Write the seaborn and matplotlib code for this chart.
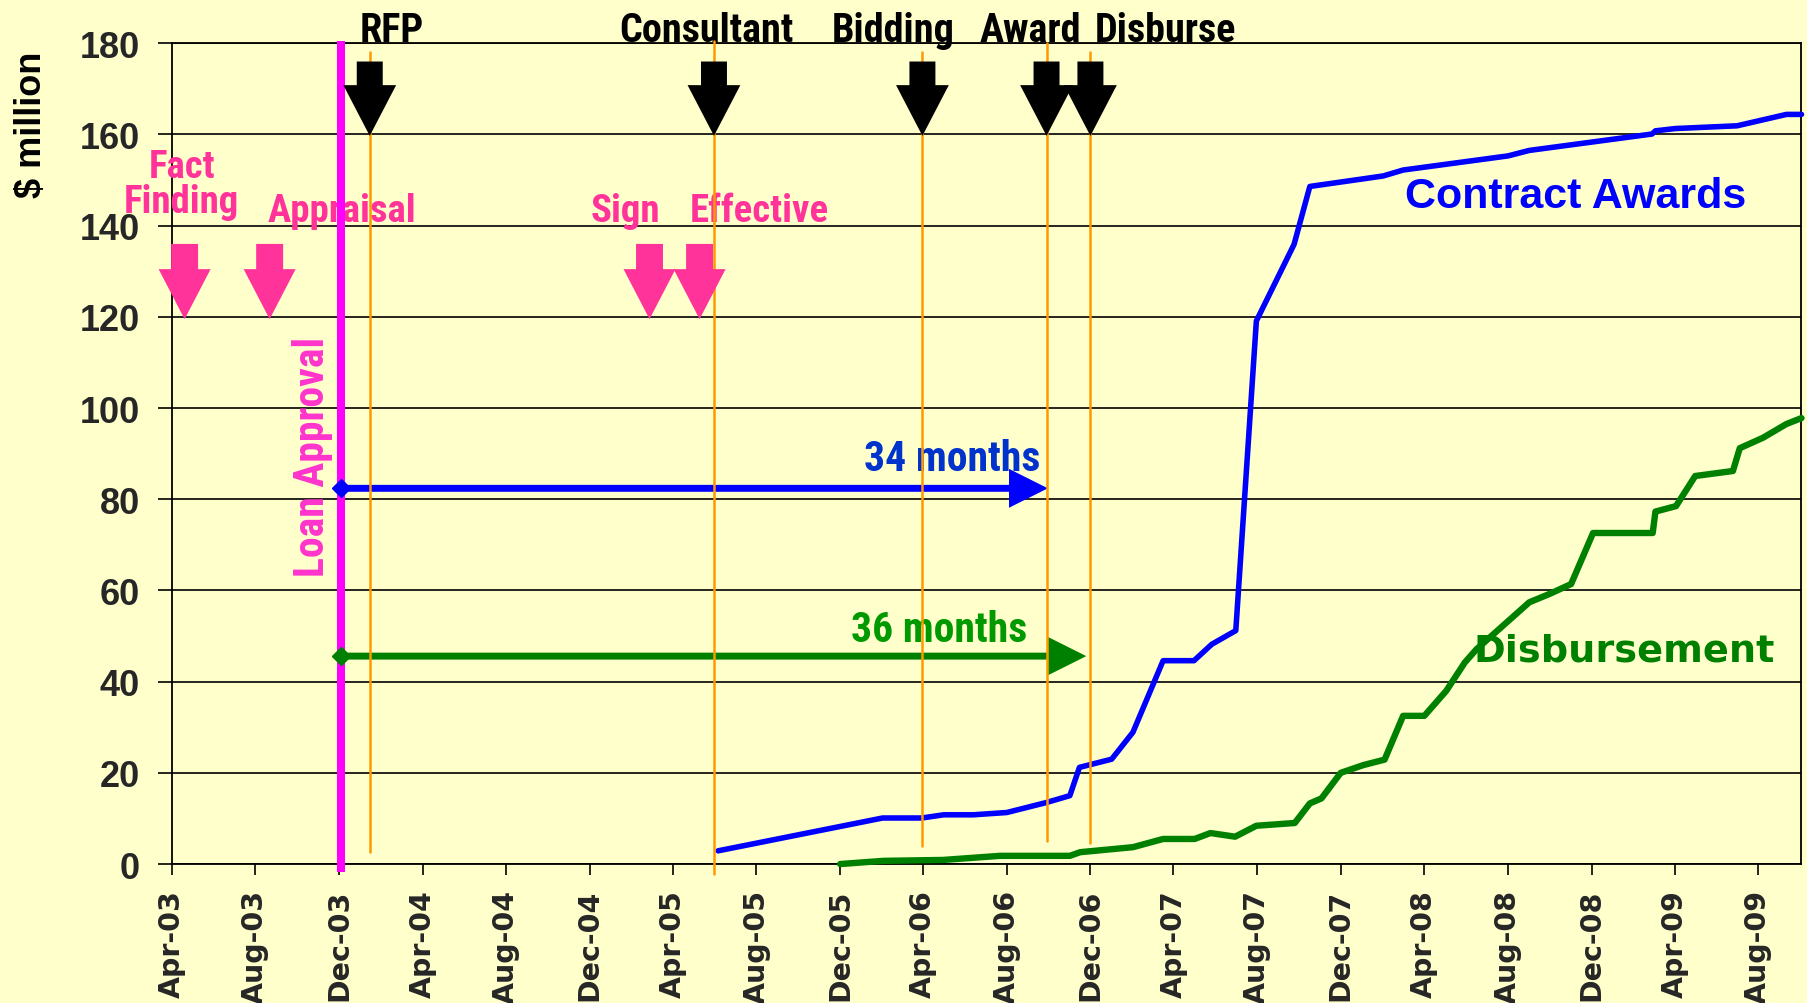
import matplotlib
matplotlib.use("Agg")
import matplotlib.pyplot as plt
import matplotlib.dates as mdates
from matplotlib import font_manager
import pandas as pd
import seaborn as sns

# cumulative contract awards, $ million
award_dates = ["2005-06-06", "2006-02-01", "2006-03-30", "2006-05-01", "2006-06-13", "2006-08-01",
               "2006-09-28", "2006-11-01", "2006-11-15", "2007-01-01", "2007-02-01", "2007-03-17",
               "2007-05-01", "2007-05-27", "2007-07-01", "2007-07-31", "2007-09-24", "2007-10-17",
               "2008-02-01", "2008-03-01", "2008-08-01", "2008-09-01", "2009-02-27", "2009-03-04",
               "2009-04-02", "2009-07-01", "2009-09-11", "2009-10-03"]
award_values = [2.9, 10.1, 10.1, 10.8, 10.8, 11.3, 13.5, 15.0, 21.2, 23.0, 28.9, 44.6,
                44.6, 48.2, 51.2, 119.1, 135.9, 148.6, 150.9, 152.2, 155.3, 156.5, 160.1, 160.8,
                161.3, 161.9, 164.4, 164.4]

# cumulative disbursement, $ million
disb_dates = ["2005-12-01", "2006-02-02", "2006-04-30", "2006-07-22", "2006-11-01", "2006-11-16",
              "2007-02-01", "2007-03-17", "2007-05-02", "2007-05-25", "2007-06-30", "2007-07-31",
              "2007-09-25", "2007-10-17", "2007-11-03", "2007-12-01", "2008-01-03", "2008-02-03",
              "2008-03-01", "2008-04-01", "2008-05-03", "2008-05-30", "2008-06-16", "2008-09-01",
              "2008-09-30", "2008-11-01", "2008-12-03", "2009-02-28", "2009-03-04", "2009-04-03",
              "2009-05-01", "2009-06-25", "2009-07-05", "2009-08-08", "2009-09-11", "2009-10-03"]
disb_values = [0, 0.7, 0.9, 1.8, 1.8, 2.6, 3.7, 5.5, 5.5, 6.8, 6.0, 8.4,
               9.0, 13.3, 14.4, 20.0, 21.7, 22.9, 32.5, 32.5, 38.0, 44.2, 47.1, 57.4,
               59.2, 61.4, 72.6, 72.6, 77.3, 78.5, 85.1, 86.2, 91.2, 93.5, 96.5, 97.8]

# implementation milestones (black arrows + orange lines)
milestone_labels = ["RFP", "Consultant", "Bidding", "Award", "Disburse"]
milestone_dates = ["2004-01-15", "2005-05-31", "2006-03-31", "2006-09-28", "2006-12-01"]
milestone_label_dates = ["2004-02-16", "2005-05-20", "2006-02-16", "2006-09-05", "2007-03-21"]
milestone_line_top = [178, 180.5, 178, 180, 178]
milestone_line_bottom = [2.6, -2.2, 4, 5, 4.6]

# preparation milestones (pink arrows)
prep_labels = ["Fact", "Finding", "Appraisal", "Sign", "Effective"]
prep_label_dates = ["2003-04-16", "2003-04-16", "2003-12-05", "2005-01-22", "2005-08-05"]
prep_label_levels = [150.6, 143.0, 141.0, 141.0, 141.0]
prep_arrow_dates = ["2003-04-20", "2003-08-22", "2005-02-26", "2005-05-10"]

approval_date = "2003-12-04"
span_labels = ["34 months", "36 months"]
span_end_dates = ["2006-09-30", "2006-11-25"]
span_levels = [82.4, 45.6]
span_label_dates = ["2006-05-13", "2006-04-24"]
span_label_levels = [86.4, 49.0]

BG = "#FFFFCC"
BLUE = "#0000FF"
GREEN = "#008000"
PINK = "#FF3399"
ORANGE = "#FF9900"
MAGENTA = "#FF00FF"

sns.set_theme(style="ticks")
plt.rcParams["font.family"] = ["Liberation Sans", "DejaVu Sans"]

# narrow bold face for the annotations (Arial Narrow look)
_names = {f.name for f in font_manager.fontManager.ttflist}
NARROW = "DejaVu Sans"
for cand in ["Roboto Condensed", "Archivo Narrow", "PT Sans Narrow", "Liberation Sans Narrow"]:
    if cand in _names:
        NARROW = cand
        break


def dn(s):
    return mdates.date2num(pd.Timestamp(s))


def block_arrow(ax, x0, y0, x1, y1, color, head_len, head_w, tail_w, z=5):
    style = f"simple,head_length={head_len},head_width={head_w},tail_width={tail_w}"
    ax.annotate("", xy=(x1, y1), xytext=(x0, y0),
                arrowprops=dict(arrowstyle=style, fc=color, ec="none", lw=0,
                                shrinkA=0, shrinkB=0, mutation_scale=1),
                zorder=z)


fig, ax = plt.subplots(figsize=(18.08, 10.04), dpi=100)
fig.patch.set_facecolor(BG)
ax.set_facecolor(BG)
fig.subplots_adjust(left=0.0949, right=0.9964, bottom=0.1384, top=0.9559)

awards = pd.DataFrame({"date": pd.to_datetime(award_dates), "amount": award_values})
disb = pd.DataFrame({"date": pd.to_datetime(disb_dates), "amount": disb_values})

sns.lineplot(data=disb, x="date", y="amount", color=GREEN, linewidth=4.6,
             estimator=None, sort=False, ax=ax, clip_on=False, zorder=4)
sns.lineplot(data=awards, x="date", y="amount", color=BLUE, linewidth=4.0,
             estimator=None, sort=False, ax=ax, clip_on=False, zorder=4)

ax.set_xlim(pd.Timestamp("2003-04-01"), pd.Timestamp("2009-10-03"))
ax.set_ylim(0, 180)
ax.set_yticks(range(0, 181, 20))
ax.xaxis.set_major_locator(mdates.MonthLocator(bymonth=[4, 8, 12], bymonthday=1))
ax.xaxis.set_major_formatter(mdates.DateFormatter("%b-%y"))
ax.set_xlabel("")
ax.set_ylabel("")

ax.set_axisbelow(True)
ax.yaxis.grid(True, color="black", linewidth=1.2)
ax.xaxis.grid(False)
for sp in ax.spines.values():
    sp.set_visible(True)
    sp.set_color("black")
    sp.set_linewidth(1.3)

ax.tick_params(axis="x", length=8, width=1.2, pad=10, color="black")
ax.tick_params(axis="y", length=10, width=1.2, pad=13, color="black")
for lab in ax.get_xticklabels():
    lab.set_rotation(90)
    lab.set_fontfamily("DejaVu Sans")
    lab.set_fontweight("bold")
    lab.set_fontsize(20.5)
for lab in ax.get_yticklabels():
    lab.set_fontweight("bold")
    lab.set_fontsize(26)

fig.text(0.0175, 0.8755, r"\$ million", rotation=90, ha="center", va="center",
         fontsize=26, fontweight="bold", color="black")

# loan approval line
ax.plot([dn(approval_date)] * 2, [180.6, -1.8], color=MAGENTA, lw=5.8,
        solid_capstyle="butt", clip_on=False, zorder=6)
ax.text(dn("2003-10-24"), 89.5, "Loan Approval", rotation=90, ha="center", va="center",
        color="#FF33CC", fontsize=30, fontweight="bold", family=NARROW)

# 34 / 36 month spans
span_colors = [BLUE, GREEN]
span_text_colors = ["#0033CC", "#009900"]
for lab, end, lev, ld, ll, c, tc in zip(span_labels, span_end_dates, span_levels,
                                        span_label_dates, span_label_levels,
                                        span_colors, span_text_colors):
    block_arrow(ax, dn(approval_date), lev, dn(end), lev, c, 28, 28, 5, z=5)
    ax.plot(dn(approval_date), lev, marker="D", ms=9, color=c, mec=c, zorder=7)
    ax.text(dn(ld), ll, lab, ha="center", va="baseline", color=tc,
            fontsize=30, fontweight="bold", family=NARROW)

# implementation milestones
for lab, d, ld, top, bot in zip(milestone_labels, milestone_dates, milestone_label_dates,
                                milestone_line_top, milestone_line_bottom):
    ax.plot([dn(d)] * 2, [top, bot], color=ORANGE, lw=1.8, clip_on=False, zorder=6)
    block_arrow(ax, dn(d), 176, dn(d), 159.7, "black", 36.5, 38, 18.7, z=7)
    ax.text(dn(ld), 180.6, lab, ha="center", va="baseline", color="black",
            fontsize=29, fontweight="bold", clip_on=False, family=NARROW)

# preparation milestones
for d in prep_arrow_dates:
    block_arrow(ax, dn(d), 136, dn(d), 119.5, PINK, 36, 37.4, 19.4, z=7)
for lab, d, lev in zip(prep_labels, prep_label_dates, prep_label_levels):
    ax.text(dn(d), lev, lab, ha="center", va="baseline", color=PINK,
            fontsize=28, fontweight="bold", family=NARROW)

# series labels
ax.text(dn("2008-11-08"), 144.1, "Contract Awards", ha="center", va="baseline",
        color=BLUE, fontsize=31, fontweight="bold", family="Liberation Sans")
ax.text(dn("2009-01-17"), 44.6, "Disbursement", ha="center", va="baseline",
        color=GREEN, fontsize=27.5, fontweight="bold", family="DejaVu Sans")

fig.savefig("out.png", dpi=100, facecolor=BG)
